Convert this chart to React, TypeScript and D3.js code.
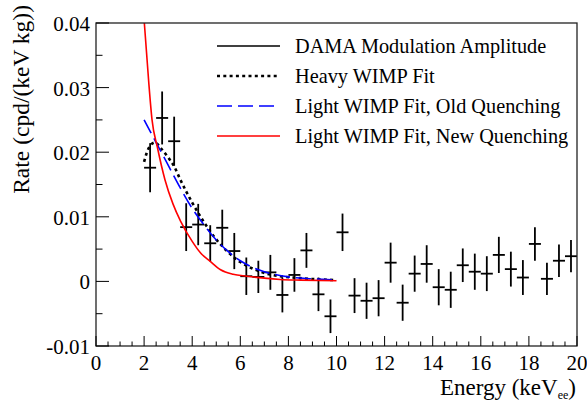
import React from "react";
import * as d3 from "d3";

// DAMA modulation amplitude points (bin centres, rate, error)
const energies = [2.25, 2.75, 3.25, 3.75, 4.25, 4.75, 5.25, 5.75, 6.25, 6.75, 7.25, 7.75, 8.25, 8.75, 9.25, 9.75, 10.25, 10.75, 11.25, 11.75, 12.25, 12.75, 13.25, 13.75, 14.25, 14.75, 15.25, 15.75, 16.25, 16.75, 17.25, 17.75, 18.25, 18.75, 19.25, 19.75];
const rates = [0.0176, 0.0253, 0.0217, 0.0084, 0.0088, 0.0059, 0.0083, 0.0047, 0.0008, 0.0007, 0.0014, -0.0021, 0.001, 0.0048, -0.002, -0.0054, 0.0076, -0.0022, -0.003, -0.0026, 0.0029, -0.0033, 0.0012, 0.0027, -0.0009, -0.0013, 0.0025, 0.0015, 0.0012, 0.0041, 0.0019, 0.0006, 0.0058, 0.0004, 0.0032, 0.0039];
const errors = [0.0038, 0.0041, 0.0038, 0.0037, 0.0032, 0.0028, 0.0028, 0.0028, 0.0029, 0.0025, 0.0027, 0.0027, 0.0026, 0.0027, 0.0026, 0.0026, 0.0029, 0.0027, 0.0028, 0.0028, 0.0031, 0.0028, 0.0028, 0.0029, 0.0028, 0.0028, 0.0026, 0.0028, 0.0027, 0.0028, 0.0027, 0.0027, 0.0026, 0.0025, 0.0025, 0.0025];
const binHalfWidth = 0.25;

// fit curves
const heavyE = [2.0, 2.1, 2.25, 2.45, 2.7, 3.0, 3.25, 3.5, 4.0, 4.5, 5.0, 5.5, 6.0, 6.5, 7.0, 7.66, 8.5, 10.0];
const heavyRate = [0.0185, 0.0198, 0.021, 0.0215, 0.0206, 0.0192, 0.0178, 0.0158, 0.0122, 0.0091, 0.0065, 0.0045, 0.003, 0.002, 0.0013, 0.0008, 0.0005, 0.0002];
const oldQE = [2.0, 2.5, 3.0, 3.5, 4.0, 4.5, 5.0, 5.5, 6.0, 6.5, 7.0, 8.0, 9.0, 10.0];
const oldQRate = [0.025, 0.0215, 0.018, 0.0145, 0.0113, 0.0087, 0.0064, 0.0046, 0.0032, 0.0022, 0.0015, 0.0007, 0.0004, 0.0002];
const newQE = [2.0, 2.1, 2.2, 2.33, 2.55, 2.87, 3.2, 3.52, 4.0, 4.35, 4.75, 5.18, 5.7, 6.28, 7.0, 7.66, 8.5, 10.0];
const newQRate = [0.0405, 0.0355, 0.0305, 0.025, 0.0208, 0.0157, 0.012, 0.0093, 0.0062, 0.0044, 0.0031, 0.0018, 0.0011, 0.0008, 0.0005, 0.0003, 0.0002, 0.0001];

const xTicks = [0, 2, 4, 6, 8, 10, 12, 14, 16, 18, 20];
const yTicks = [-0.01, 0, 0.01, 0.02, 0.03, 0.04];
const yTickLabels = ["-0.01", "0", "0.01", "0.02", "0.03", "0.04"];
const legendLabels = [
  "DAMA Modulation Amplitude",
  "Heavy WIMP Fit",
  "Light WIMP Fit, Old Quenching",
  "Light WIMP Fit, New Quenching",
];

const W = 587;
const H = 402;
const m = { left: 96, right: 577, top: 23, bottom: 346 };
const font = '"Liberation Serif", "DejaVu Serif", serif';

const App: React.FC = () => {
  const x = d3.scaleLinear().domain([0, 20]).range([m.left, m.right]);
  const y = d3.scaleLinear().domain([-0.01, 0.04]).range([m.bottom, m.top]);

  const line = d3
    .line<[number, number]>()
    .x((d) => x(d[0]))
    .y((d) => y(d[1]))
    .curve(d3.curveMonotoneX);

  const zip = (a: number[], b: number[]) => a.map((e, i) => [e, b[i]] as [number, number]);

  const xMinor = d3.range(0, 20.001, 0.5).filter((v) => Math.abs(v % 2) > 1e-6);
  const yMinor = d3.range(-0.005, 0.04, 0.01);

  const legendStyles = [
    { stroke: "#000", dash: undefined, width: 1.6 },
    { stroke: "#000", dash: "3,3.3", width: 2.6 },
    { stroke: "#0000ff", dash: "15,6", width: 1.6 },
    { stroke: "#ff0000", dash: undefined, width: 1.6 },
  ];

  return (
    <svg
      width={W}
      height={H}
      style={{ position: "absolute", left: 0, top: 0, background: "#fff", fontFamily: font }}
    >
      <defs>
        <clipPath id="plot">
          <rect x={m.left} y={m.top} width={m.right - m.left} height={m.bottom - m.top} />
        </clipPath>
      </defs>

      {/* data points with error crosses */}
      <g stroke="#000" strokeWidth={1.8}>
        {energies.map((e, i) => (
          <g key={i}>
            <line x1={x(e - binHalfWidth)} x2={x(e + binHalfWidth)} y1={y(rates[i])} y2={y(rates[i])} />
            <line x1={x(e)} x2={x(e)} y1={y(rates[i] - errors[i])} y2={y(rates[i] + errors[i])} />
          </g>
        ))}
      </g>

      {/* fit curves */}
      <g fill="none" clipPath="url(#plot)">
        <path d={line(zip(heavyE, heavyRate)) || ""} stroke="#000" strokeWidth={2.6} strokeDasharray="3,3.3" />
        <path d={line(zip(oldQE, oldQRate)) || ""} stroke="#0000ff" strokeWidth={1.6} strokeDasharray="15,6" />
        <path d={line(zip(newQE, newQRate)) || ""} stroke="#ff0000" strokeWidth={1.6} />
      </g>

      {/* frame */}
      <rect
        x={m.left}
        y={m.top}
        width={m.right - m.left}
        height={m.bottom - m.top}
        fill="none"
        stroke="#222"
        strokeWidth={1.3}
      />

      {/* ticks */}
      <g stroke="#000" strokeWidth={1}>
        {xTicks.map((t) => (
          <line key={t} x1={x(t)} x2={x(t)} y1={m.bottom} y2={m.bottom - 10} />
        ))}
        {xMinor.map((t) => (
          <line key={"m" + t} x1={x(t)} x2={x(t)} y1={m.bottom} y2={m.bottom - 4.5} />
        ))}
        {yTicks.map((t) => (
          <line key={t} x1={m.left} x2={m.left + 13} y1={y(t)} y2={y(t)} />
        ))}
        {yMinor.map((t) => (
          <line key={"m" + t} x1={m.left} x2={m.left + 6.5} y1={y(t)} y2={y(t)} />
        ))}
      </g>

      {/* tick labels */}
      <g fontSize={21} fill="#000" style={{ fontFamily: font }}>
        {xTicks.map((t) => (
          <text key={t} x={x(t)} y={m.bottom + 24} textAnchor="middle">
            {t}
          </text>
        ))}
        {yTicks.map((t, i) => (
          <text key={t} x={m.left - 6} y={y(t) + 8} textAnchor="end">
            {yTickLabels[i]}
          </text>
        ))}
      </g>

      {/* axis titles */}
      <text x={576} y={395} textAnchor="end" fontSize={23} style={{ fontFamily: font }}>
        Energy (keV
        <tspan fontSize={12} dy={3.5}>ee</tspan>
        <tspan dy={-3.5}>)</tspan>
      </text>
      <text
        transform="translate(29,5) rotate(-90)"
        textAnchor="end"
        fontSize={23.5}
        style={{ fontFamily: font }}
      >
        Rate (cpd/(keV kg))
      </text>

      {/* legend */}
      <g style={{ fontFamily: font }}>
        {legendLabels.map((lab, i) => {
          const ry = 46 + i * 30;
          const s = legendStyles[i];
          return (
            <g key={lab}>
              <line
                x1={217}
                x2={280}
                y1={ry}
                y2={ry}
                stroke={s.stroke}
                strokeWidth={s.width}
                strokeDasharray={s.dash}
              />
              <text x={295} y={ry + 7} fontSize={20.3}>
                {lab}
              </text>
            </g>
          );
        })}
      </g>
    </svg>
  );
};

export default App;
